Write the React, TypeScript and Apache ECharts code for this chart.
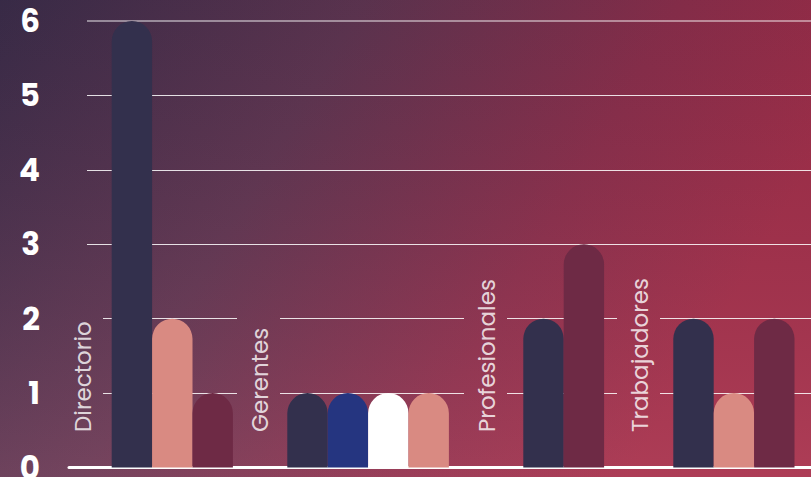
import React, { useEffect, useRef } from 'react';
import * as echarts from 'echarts';

// ---- data ----
const categories = ['Directorio', 'Gerentes', 'Profesionales', 'Trabajadores'];
const directorioValues = [6, 2, 1];
const gerentesValues = [1, 1, 1, 1];
const profesionalesValues = [2, 3];
const trabajadoresValues = [2, 1, 2];
const yTicks = [0, 1, 2, 3, 4, 5, 6];

// ---- styles ----
const NAVY = '#33304d';
const PINK = '#d98a82';
const MAROON = '#6e2a45';
const BLUE = '#253580';
const WHITE = '#ffffff';
const groupValues = [directorioValues, gerentesValues, profesionalesValues, trabajadoresValues];
const groupColors = [
  [NAVY, PINK, MAROON],
  [NAVY, BLUE, WHITE, PINK],
  [NAVY, MAROON],
  [NAVY, PINK, MAROON],
];

// ---- layout (x in px from the plot's left edge) ----
const W = 811;
const H = 477;
const GRID_LEFT = 69;
const PLOT_W = W - GRID_LEFT;
const BAR_W = 40.4;
const groupStart = [42.7, 218.3, 454.3, 604.3];
const labelCenter = [83, 260, 487, 640].map((x) => x - GRID_LEFT);
const GRID_START = 87 - GRID_LEFT;
const GAP_LEFT = 23;
const GAP_RIGHT = 20;
const GAPPED_MAX = 2; // ticks whose lines pass behind the labels
const LABEL_BASE = 0.477; // where labels start, in axis units

export default function App() {
  const ref = useRef<HTMLDivElement>(null);
  useEffect(() => {
    document.body.style.margin = '0';
    const chart = echarts.init(ref.current!, undefined, { renderer: 'svg' });

    const barData: any[] = [];
    groupValues.forEach((vals, g) => {
      vals.forEach((v, i) => {
        barData.push({
          value: [groupStart[g] + BAR_W * i + BAR_W / 2, v],
          itemStyle: { color: groupColors[g][i] },
        });
      });
    });

    const lines: any[] = [];
    yTicks.filter((t) => t > 0).forEach((t) => {
      let segs: [number, number][] = [[GRID_START, PLOT_W]];
      if (t <= GAPPED_MAX) {
        labelCenter.forEach((c) => {
          const a = c - GAP_LEFT;
          const b = c + GAP_RIGHT;
          const next: [number, number][] = [];
          segs.forEach(([s, e]) => {
            if (b <= s || a >= e) next.push([s, e]);
            else {
              if (a > s) next.push([s, a]);
              if (b < e) next.push([b, e]);
            }
          });
          segs = next;
        });
      }
      const top = t === yTicks[yTicks.length - 1];
      segs.forEach(([s, e]) => {
        lines.push([
          {
            coord: [s, t],
            lineStyle: {
              color: top ? 'rgba(255,255,255,0.6)' : 'rgba(255,255,255,0.85)',
              width: top ? 1.5 : 1,
              type: 'solid',
            },
          },
          { coord: [e, t] },
        ]);
      });
    });

    chart.setOption({
      animation: false,
      backgroundColor: {
        type: 'linear',
        x: 0,
        y: 0,
        x2: 1,
        y2: 0.35,
        colorStops: [
          { offset: 0, color: '#3a2c48' },
          { offset: 0.4, color: '#5e3550' },
          { offset: 0.75, color: '#8a2e4a' },
          { offset: 1, color: '#a02d47' },
        ],
      },
      graphic: [
        {
          type: 'rect',
          z: 0,
          silent: true,
          shape: { x: 0, y: 0, width: W, height: H },
          style: {
            fill: {
              type: 'linear',
              x: 0,
              y: 0,
              x2: 0,
              y2: 1,
              colorStops: [
                { offset: 0, color: 'rgba(20,10,40,0.06)' },
                { offset: 1, color: 'rgba(255,160,180,0.14)' },
              ],
            },
          },
        },
      ],
      grid: {
        left: GRID_LEFT,
        right: 0,
        top: 21,
        bottom: H - 467.5,
        containLabel: false,
        outerBoundsMode: 'none',
      },
      xAxis: {
        type: 'value',
        min: 0,
        max: PLOT_W,
        axisLabel: { show: false },
        axisTick: { show: false },
        splitLine: { show: false },
        axisLine: { show: true, onZero: false, lineStyle: { color: '#ffffff', width: 3 } },
      },
      yAxis: {
        type: 'value',
        min: 0,
        max: 6,
        interval: 1,
        axisLine: { show: false },
        axisTick: { show: false },
        splitLine: { show: false },
        axisLabel: {
          color: '#ffffff',
          fontFamily: "Poppins, 'Open Sans', sans-serif",
          fontWeight: 700,
          fontSize: 31,
          margin: 29,
          formatter: (v: number) => String(v),
        },
      },
      series: [
        {
          type: 'bar',
          barWidth: BAR_W,
          data: barData,
          itemStyle: { borderRadius: [BAR_W / 2, BAR_W / 2, 0, 0] },
          z: 3,
          markLine: {
            silent: true,
            symbol: ['none', 'none'],
            label: { show: false },
            z: 1,
            data: lines,
          },
        },
        {
          type: 'scatter',
          symbolSize: 0,
          z: 4,
          data: categories.map((c, i) => ({ name: c, value: [labelCenter[i], LABEL_BASE] })),
          label: {
            show: true,
            position: 'inside',
            formatter: '{b}',
            rotate: 90,
            align: 'left',
            verticalAlign: 'middle',
            color: '#ffffff',
            fontFamily: "Poppins, 'Open Sans', sans-serif",
            fontWeight: 400,
            fontSize: 23,
          },
        },
      ],
    });
    return () => chart.dispose();
  }, []);
  return <div ref={ref} style={{ position: 'absolute', left: 0, top: 0, width: W, height: H }} />;
}
